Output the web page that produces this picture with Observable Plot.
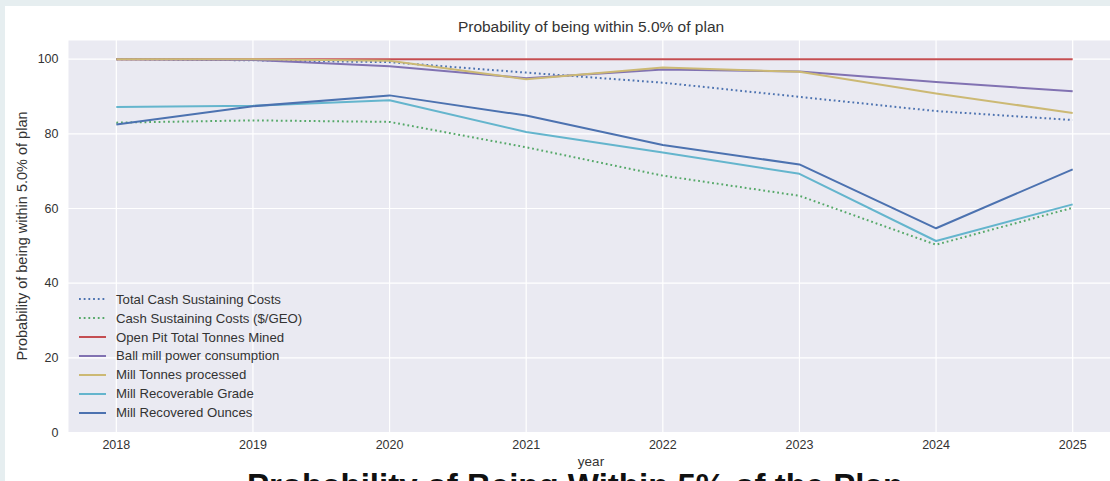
<!DOCTYPE html>
<html>
<head>
<meta charset="utf-8">
<script src="https://cdn.jsdelivr.net/npm/d3@7"></script>
<script src="https://cdn.jsdelivr.net/npm/@observablehq/plot@0.6"></script>
<style>
  html, body { margin: 0; padding: 0; }
  body { width: 1110px; height: 481px; overflow: hidden; position: relative; background: #e6eef0; font-family: "Liberation Sans", Arial, sans-serif; }
  #panel { position: absolute; left: 5px; top: 6px; width: 1110px; height: 480px; background: #ffffff; overflow: hidden; }
  #chart { position: absolute; left: 0; top: 0; }
  #title { position: absolute; left: 0; width: 1172px; top: 12.6px; text-align: center; font-size: 15.5px; line-height: 1; color: #333; white-space: nowrap; }
  #ylabel { position: absolute; left: 17px; top: 230px; transform: translate(-50%, -50%) rotate(-90deg); white-space: nowrap; font-size: 14.5px; line-height: 1; color: #333; }
  #xlabel { position: absolute; left: 0; width: 1172px; top: 449px; text-align: center; font-size: 13.5px; line-height: 1; color: #333; }
  #caption { position: absolute; left: 242px; top: 462.5px; font-size: 33px; font-weight: bold; line-height: 1; color: #111; white-space: nowrap; }
  #legend { position: absolute; left: 74px; top: 283.8px; font-size: 13.2px; color: #333; }
  .row { height: 18.9px; display: flex; align-items: center; white-space: nowrap; }
  .row svg { margin-right: 10px; }
</style>
</head>
<body>
<div id="panel">
  <div id="chart"></div>
  <div id="title">Probability of being within 5.0% of plan</div>
  <div id="ylabel">Probability of being within 5.0% of plan</div>
  <div id="xlabel">year</div>
  <div id="legend"></div>
  <div id="caption">Probability of Being Within 5% of the Plan</div>
</div>
<script>
const years = [2018, 2019, 2020, 2021, 2022, 2023, 2024, 2025];
const seriesNames = [
  "Total Cash Sustaining Costs",
  "Cash Sustaining Costs ($/GEO)",
  "Open Pit Total Tonnes Mined",
  "Ball mill power consumption",
  "Mill Tonnes processed",
  "Mill Recoverable Grade",
  "Mill Recovered Ounces"
];
const seriesColors = ["#4c72b0", "#55a868", "#c44e52", "#8172b2", "#ccb974", "#64b5cd", "#4c72b0"];
const seriesDotted = [true, true, false, false, false, false, false];

const totalCash   = [100, 99.7, 99.2, 96.4, 93.7, 89.9, 86.1, 83.7];
const cashGeo     = [83.0, 83.6, 83.2, 76.4, 68.8, 63.4, 50.3, 60.2];
const openPit     = [100, 100, 100, 100, 100, 100, 100, 100];
const ballMill    = [100, 99.8, 98.1, 94.9, 97.2, 96.7, 93.9, 91.4];
const millTonnes  = [100, 100, 99.6, 94.6, 97.8, 96.6, 90.8, 85.6];
const millGrade   = [87.2, 87.5, 89.0, 80.5, 75.0, 69.3, 51.3, 61.1];
const millOunces  = [82.5, 87.4, 90.3, 84.9, 77.0, 71.8, 54.7, 70.5];

const yTicks = [0, 20, 40, 60, 80, 100];

const allSeries = [totalCash, cashGeo, openPit, ballMill, millTonnes, millGrade, millOunces];

const lineMarks = allSeries.map((vals, i) => {
  const data = years.map((y, j) => ({year: y, value: vals[j]}));
  return Plot.line(data, {
    x: "year", y: "value",
    stroke: seriesColors[i],
    strokeWidth: 2,
    strokeDasharray: seriesDotted[i] ? "1.8,2.9" : null,
    strokeLinecap: "butt",
    strokeLinejoin: "round"
  });
});

const chart = Plot.plot({
  width: 1110,
  height: 475,
  marginLeft: 63,
  marginRight: -5,
  marginTop: 34,
  marginBottom: 49,
  style: {background: "transparent", maxWidth: "none", fontFamily: "Liberation Sans, Arial, sans-serif", fontSize: "12.5px", color: "#333", overflow: "visible"},
  x: {domain: [2017.65, 2025.35], ticks: years, tickFormat: d => String(d), tickSize: 0, tickPadding: 8, label: null},
  y: {domain: [0, 105], ticks: yTicks, tickSize: 0, tickPadding: 10, label: null},
  marks: [
    Plot.frame({fill: "#eaeaf2", stroke: null}),
    Plot.gridX(years, {stroke: "#ffffff", strokeOpacity: 1, strokeWidth: 1.2}),
    Plot.gridY(yTicks, {stroke: "#ffffff", strokeOpacity: 1, strokeWidth: 1.2}),
    ...lineMarks
  ]
});
document.getElementById("chart").appendChild(chart);

const legend = document.getElementById("legend");
seriesNames.forEach((name, i) => {
  const row = document.createElement("div");
  row.className = "row";
  const ns = "http://www.w3.org/2000/svg";
  const s = document.createElementNS(ns, "svg");
  s.setAttribute("width", "27");
  s.setAttribute("height", "6");
  const l = document.createElementNS(ns, "line");
  l.setAttribute("x1", "0"); l.setAttribute("x2", "27");
  l.setAttribute("y1", "3"); l.setAttribute("y2", "3");
  l.setAttribute("stroke", seriesColors[i]);
  l.setAttribute("stroke-width", "2");
  if (seriesDotted[i]) l.setAttribute("stroke-dasharray", "1.8,2.9");
  s.appendChild(l);
  row.appendChild(s);
  const t = document.createElement("span");
  t.textContent = name;
  row.appendChild(t);
  legend.appendChild(row);
});
</script>
</body>
</html>
